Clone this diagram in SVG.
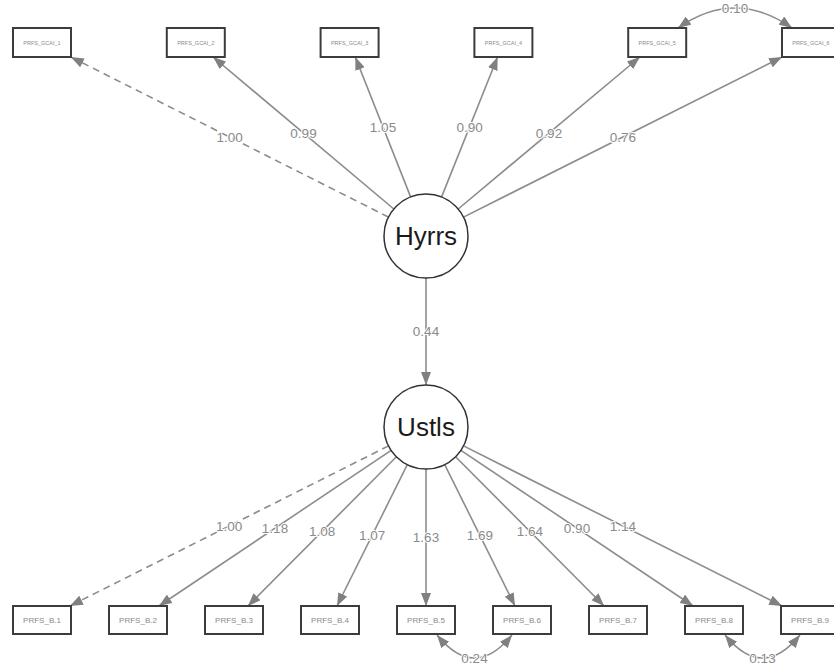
<svg xmlns="http://www.w3.org/2000/svg" width="834" height="670" viewBox="0 0 834 670">
  <style>
    .box { fill: #ffffff; stroke: #3c3c3c; stroke-width: 2; }
    .lat { fill: #ffffff; stroke: #333333; stroke-width: 1.5; }
    .ttop { font-family: "Liberation Sans", Arial, sans-serif; font-size: 5.5px; fill: #8a8a8a; text-anchor: middle; }
    .tbot { font-family: "Liberation Sans", Arial, sans-serif; font-size: 8px; fill: #8a8a8a; text-anchor: middle; }
    .tlat { font-family: "Liberation Sans", Arial, sans-serif; font-size: 26px; fill: #1a1a1a; text-anchor: middle; }
    .edge { fill: none; stroke: #8c8c8c; stroke-width: 1.6; marker-end: url(#arrow); }
    .dash { stroke-dasharray: 7 5; }
    .cov { fill: none; stroke: #8c8c8c; stroke-width: 1.6; marker-start: url(#arrow); marker-end: url(#arrow); }
    .lbl { font-family: "Liberation Sans", Arial, sans-serif; font-size: 13.5px; fill: #8a8a8a; text-anchor: middle; dominant-baseline: central; stroke: #ffffff; stroke-width: 2; stroke-linejoin: round; paint-order: stroke; }
  </style>
  <defs>
    <marker id="arrow" viewBox="0 0 13 10" refX="13" refY="5" markerWidth="13" markerHeight="10" markerUnits="userSpaceOnUse" orient="auto-start-reverse">
      <path d="M0,0 L13,5 L0,10 z" fill="#808080"/>
    </marker>
  </defs>

  <!-- paths: latent to indicators, structural path, residual covariances -->
  <g id="connectors">
    <path class="edge dash" d="M388.5,217.1 L70.8,57"/>
    <path class="edge" d="M393.8,209 L213.1,57"/>
    <path class="edge" d="M410.6,196.9 L355.3,57"/>
    <path class="edge" d="M441.6,196.9 L497.6,57"/>
    <path class="edge" d="M458.2,209 L639.9,57"/>
    <path class="edge" d="M463.5,217.1 L782.1,57"/>

    <path class="edge" d="M426,278 L426,385"/>

    <path class="edge dash" d="M388.5,445.9 L69.9,606"/>
    <path class="edge" d="M391.1,450.4 L158.9,606"/>
    <path class="edge" d="M396.4,456.8 L247.9,606"/>
    <path class="edge" d="M407.3,464.6 L337,606"/>
    <path class="edge" d="M426,469 L426,606"/>
    <path class="edge" d="M444.7,464.6 L515,606"/>
    <path class="edge" d="M455.6,456.8 L604.1,606"/>
    <path class="edge" d="M460.9,450.4 L693.1,606"/>
    <path class="edge" d="M463.5,445.9 L782.1,606"/>

    <path class="cov" d="M678,28 Q735,-12 792,28"/>
    <path class="cov" d="M437,635 Q474.5,681 512,635"/>
    <path class="cov" d="M725,635 Q762.5,681 800,635"/>

    <text class="lbl" x="229.7" y="137">1.00</text>
    <text class="lbl" x="303.5" y="133">0.99</text>
    <text class="lbl" x="383" y="127">1.05</text>
    <text class="lbl" x="469.6" y="127">0.90</text>
    <text class="lbl" x="549" y="133">0.92</text>
    <text class="lbl" x="622.8" y="137">0.76</text>
    <text class="lbl" x="426" y="331.5">0.44</text>
    <text class="lbl" x="229.2" y="526">1.00</text>
    <text class="lbl" x="275" y="528.2">1.18</text>
    <text class="lbl" x="322.1" y="531.4">1.08</text>
    <text class="lbl" x="372.2" y="535.3">1.07</text>
    <text class="lbl" x="426" y="537.5">1.63</text>
    <text class="lbl" x="479.8" y="535.3">1.69</text>
    <text class="lbl" x="529.9" y="531.4">1.64</text>
    <text class="lbl" x="577" y="528.2">0.90</text>
    <text class="lbl" x="622.8" y="526">1.14</text>
    <text class="lbl" x="735" y="8">0.10</text>
    <text class="lbl" x="474.5" y="658">0.24</text>
    <text class="lbl" x="762.5" y="658">0.13</text>
  </g>

  <!-- latent variables -->
  <g id="Hyrrs">
    <circle class="lat" cx="426" cy="236" r="42"/>
    <text class="tlat" x="426" y="245">Hyrrs</text>
  </g>
  <g id="Ustls">
    <circle class="lat" cx="426" cy="427" r="42"/>
    <text class="tlat" x="426" y="436">Ustls</text>
  </g>

  <!-- indicators of Hyrrs -->
  <g id="PRFS_GCAI_1"><rect class="box" x="13" y="28" width="58" height="29"/><text class="ttop" x="42" y="44.5">PRFS_GCAI_1</text></g>
  <g id="PRFS_GCAI_2"><rect class="box" x="166.8" y="28" width="58" height="29"/><text class="ttop" x="195.8" y="44.5">PRFS_GCAI_2</text></g>
  <g id="PRFS_GCAI_3"><rect class="box" x="320.6" y="28" width="58" height="29"/><text class="ttop" x="349.6" y="44.5">PRFS_GCAI_3</text></g>
  <g id="PRFS_GCAI_4"><rect class="box" x="474.4" y="28" width="58" height="29"/><text class="ttop" x="503.4" y="44.5">PRFS_GCAI_4</text></g>
  <g id="PRFS_GCAI_5"><rect class="box" x="628.2" y="28" width="58" height="29"/><text class="ttop" x="657.2" y="44.5">PRFS_GCAI_5</text></g>
  <g id="PRFS_GCAI_6"><rect class="box" x="782" y="28" width="58" height="29"/><text class="ttop" x="811" y="44.5">PRFS_GCAI_6</text></g>

  <!-- indicators of Ustls -->
  <g id="PRFS_B1"><rect class="box" x="13" y="606" width="58" height="28"/><text class="tbot" x="42" y="623">PRFS_B.1</text></g>
  <g id="PRFS_B2"><rect class="box" x="109" y="606" width="58" height="28"/><text class="tbot" x="138" y="623">PRFS_B.2</text></g>
  <g id="PRFS_B3"><rect class="box" x="205" y="606" width="58" height="28"/><text class="tbot" x="234" y="623">PRFS_B.3</text></g>
  <g id="PRFS_B4"><rect class="box" x="301" y="606" width="58" height="28"/><text class="tbot" x="330" y="623">PRFS_B.4</text></g>
  <g id="PRFS_B5"><rect class="box" x="397" y="606" width="58" height="28"/><text class="tbot" x="426" y="623">PRFS_B.5</text></g>
  <g id="PRFS_B6"><rect class="box" x="493" y="606" width="58" height="28"/><text class="tbot" x="522" y="623">PRFS_B.6</text></g>
  <g id="PRFS_B7"><rect class="box" x="589" y="606" width="58" height="28"/><text class="tbot" x="618" y="623">PRFS_B.7</text></g>
  <g id="PRFS_B8"><rect class="box" x="685" y="606" width="58" height="28"/><text class="tbot" x="714" y="623">PRFS_B.8</text></g>
  <g id="PRFS_B9"><rect class="box" x="781" y="606" width="58" height="28"/><text class="tbot" x="810" y="623">PRFS_B.9</text></g>
</svg>
